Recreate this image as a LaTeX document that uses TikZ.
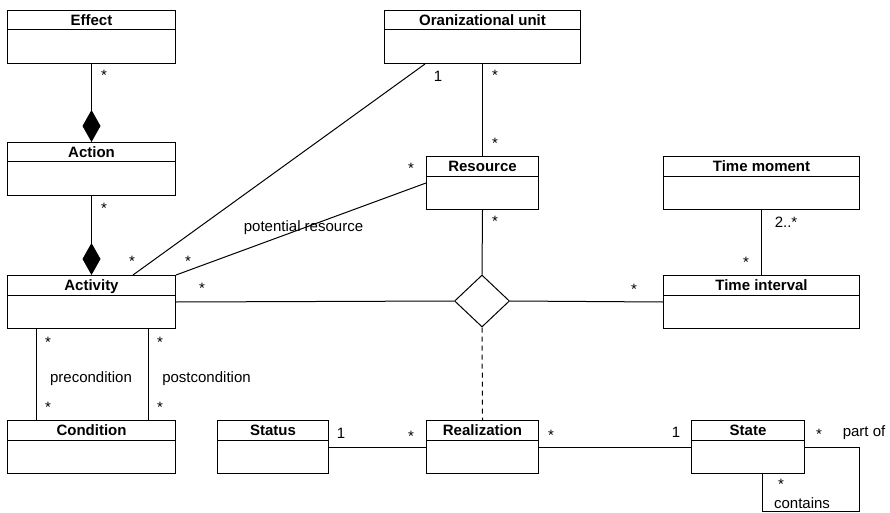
\documentclass[tikz,border=0pt]{standalone}
\usepackage{fontspec}
\setmainfont{Liberation Sans}
\usetikzlibrary{shapes.geometric,arrows.meta,calc}

% A UML class: name, left, top, width, title
\newcommand{\umlclass}[5]{%
  \node[classbox, minimum width=#4pt] (#1) at (#2,#3) {};
  \draw[line width=1pt] ($(#1.north west)+(0pt,-20pt)$) -- ($(#1.north east)+(0pt,-20pt)$);
  \node[classtitle] (#1-title) at ($(#1.north)+(0pt,-15.5pt)$) {#5};
}

\begin{document}
\begin{tikzpicture}[x=1pt,y=-1pt,
  classbox/.style={draw, line width=1pt, minimum height=53pt, inner sep=0pt, anchor=north west},
  classtitle/.style={font=\bfseries\fontsize{15}{18}\selectfont, anchor=base, inner sep=0pt},
  mult/.style={font=\fontsize{15}{18}\selectfont, anchor=base, inner sep=0pt},
  assoc/.style={line width=1pt},
  comp/.style={line width=1pt, -{Diamond[length=32pt,width=18pt]}},
  relink/.style={line width=1pt, dash pattern=on 5pt off 4pt},
  nary/.style={draw, diamond, fill=white, line width=1pt, minimum width=55pt, minimum height=52pt, inner sep=0pt}
]
\fill[white] (0,0) rectangle (890,513);
\useasboundingbox (0,0) rectangle (890,513);

% classes
\umlclass{effect}{7}{10}{168}{Effect}
\umlclass{action}{7}{142}{168}{Action}
\umlclass{activity}{7}{275}{168}{Activity}
\umlclass{condition}{7}{420}{168}{Condition}
\umlclass{orgunit}{384}{10}{196}{Oranizational unit}
\umlclass{resource}{426}{156}{112}{Resource}
\umlclass{timemoment}{663}{156}{196}{Time moment}
\umlclass{timeint}{663}{275}{196}{Time interval}
\umlclass{status}{217}{420}{111}{Status}
\umlclass{realization}{426}{420}{112}{Realization}
\umlclass{state}{691}{420}{113}{State}

% n-ary association
\node[nary] (link) at (482,301) {};

% compositions
\draw[comp] (effect.south) -- (action.north);
\draw[comp] (action.south) -- (activity.north);

% associations
\draw[assoc] ($(orgunit.south west)+(41pt,0pt)$) -- ($(activity.north west)+(126pt,0pt)$);
\draw[assoc] (resource.west) -- (activity.north east);
\draw[assoc] (orgunit.south) -- (resource.north);
\draw[assoc] (resource.south) -- (link.north);
\draw[assoc] (activity.east) -- (link.west);
\draw[assoc] (link.east) -- (timeint.west);
\draw[assoc] (timemoment.south) -- (timeint.north);
\draw[relink] (link.south) -- (realization.north);
\draw[assoc] ($(activity.south west)+(29pt,0pt)$) -- ($(condition.north west)+(29pt,0pt)$);
\draw[assoc] ($(activity.south east)+(-28pt,0pt)$) -- ($(condition.north east)+(-28pt,0pt)$);
\draw[assoc] (status.east) -- (realization.west);
\draw[assoc] (realization.east) -- (state.west);
\draw[assoc] (state.east) -- ++(54,0) -- ++(0,64) -| ($(state.south)+(14.5pt,0pt)$);

% multiplicities and role names
\node[mult] (m-eff) at (104,80.5) {*};
\node[mult] (m-act) at (104,213.5) {*};
\node[mult] (m-org1) at (438,82) {1};
\node[mult] (m-org2) at (495,80.5) {*};
\node[mult] (m-res1) at (495,148.5) {*};
\node[mult] (m-res2) at (411,173.5) {*};
\node[mult] (m-res3) at (495,226.5) {*};
\node[mult] (m-ac1) at (132,266.5) {*};
\node[mult] (m-ac2) at (188,266.5) {*};
\node[mult] (m-ac3) at (202,293.5) {*};
\node[mult] (l-pot) at (303.5,231) {potential resource};
\node[mult] (m-ti1) at (634,294.5) {*};
\node[mult] (m-tm) at (786,227.5) {2..*};
\node[mult] (m-ti2) at (746,267.5) {*};
\node[mult] (m-pre1) at (48,347.5) {*};
\node[mult] (m-pre2) at (48,412.5) {*};
\node[mult] (m-post1) at (160,347.5) {*};
\node[mult] (m-post2) at (160,412.5) {*};
\node[mult] (l-pre) at (91,382) {precondition};
\node[mult] (l-post) at (206.5,382) {postcondition};
\node[mult] (m-st1) at (341,438.5) {1};
\node[mult] (m-re1) at (411,441) {*};
\node[mult] (m-re2) at (551,440.5) {*};
\node[mult] (m-sta1) at (676,437.5) {1};
\node[mult] (m-sta2) at (819,439.5) {*};
\node[mult] (l-part) at (864,436) {part of};
\node[mult] (m-sta3) at (781,489.5) {*};
\node[mult] (l-cont) at (802,508) {contains};
\end{tikzpicture}
\end{document}
